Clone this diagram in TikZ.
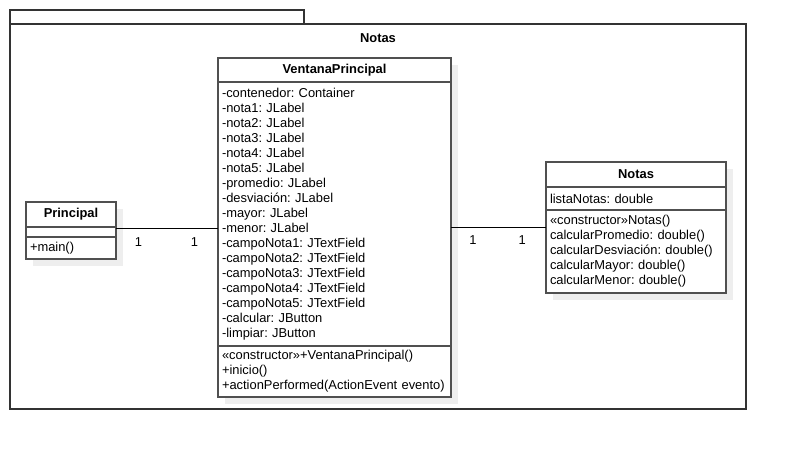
\documentclass[tikz,border=0pt]{standalone}
\usepackage{fontspec}
\setmainfont{Liberation Sans}
\usetikzlibrary{positioning,shadows}
\definecolor{umlline}{HTML}{505050}
\definecolor{pkgline}{HTML}{333333}
\definecolor{umlshadow}{HTML}{EEEEEE}
\tikzset{x=1pt,y=-1pt,every node/.style={font=\fontsize{12.9}{15}\selectfont\frenchspacing},
  part/.style={draw=umlline,line width=1.1pt,fill=white,inner xsep=4pt,inner ysep=0pt,outer sep=0pt,
    anchor=north west,align=left,drop shadow={shadow xshift=7pt,shadow yshift=-7pt,opacity=1,fill=umlshadow}},
  head/.style={part,align=center,font=\fontsize{12.9}{15}\selectfont\bfseries},
  pkg/.style={draw=pkgline,line width=1.5pt,fill=white,inner sep=0pt,outer sep=0pt,anchor=north west},
  mult/.style={below=6pt,inner sep=2pt}}
\begin{document}
\begin{tikzpicture}
    \useasboundingbox (0,0) rectangle (786,450);
    % package
    \node[pkg,minimum width=294pt,minimum height=14pt] (tab) at (10,10) {};
    \node[pkg,minimum width=736pt,minimum height=385pt] (frame) at (10,24) {};
    \node[font=\fontsize{12.9}{15}\selectfont\bfseries] (title) at (378,38) {Notas};
    % VentanaPrincipal
    \node[head,text width=225pt,minimum height=24pt] (ventana-h) at (218,58) {VentanaPrincipal};
    \node[part,text width=225pt,minimum height=264pt] (ventana-a) at (ventana-h.south west) {-contenedor: Container\\-nota1: JLabel\\-nota2: JLabel\\-nota3: JLabel\\-nota4: JLabel\\-nota5: JLabel\\-promedio: JLabel\\-desviación: JLabel\\-mayor: JLabel\\-menor: JLabel\\-campoNota1: JTextField\\-campoNota2: JTextField\\-campoNota3: JTextField\\-campoNota4: JTextField\\-campoNota5: JTextField\\-calcular: JButton\\-limpiar: JButton};
    \node[part,text width=225pt,minimum height=51pt] (ventana-m) at (ventana-a.south west) {«constructor»+VentanaPrincipal()\\+inicio()\\+actionPerformed(ActionEvent evento)};
    % Principal
    \node[head,text width=82pt,minimum height=25pt] (principal-h) at (26,202) {Principal};
    \node[part,text width=82pt,minimum height=10pt] (principal-a) at (principal-h.south west) {};
    \node[part,text width=82pt,minimum height=22pt] (principal-m) at (principal-a.south west) {+main()};
    % Notas
    \node[head,text width=172pt,minimum height=25pt] (notas-h) at (546,162) {Notas};
    \node[part,text width=172pt,minimum height=23pt] (notas-a) at (notas-h.south west) {listaNotas: double};
    \node[part,text width=172pt,minimum height=83pt] (notas-m) at (notas-a.south west) {«constructor»Notas()\\calcularPromedio: double()\\calcularDesviación: double()\\calcularMayor: double()\\calcularMenor: double()};
    \path[draw,line width=1pt]
    (principal-a.4) -- node[mult,pos=0.22] {1} node[mult,pos=0.77] {1} (ventana-a.west |- principal-a.4)
    (ventana-a.east |- notas-m.165) -- node[mult,pos=0.23] {1} node[mult,pos=0.75] {1} (notas-m.165)
    ;
\end{tikzpicture}
\end{document}
